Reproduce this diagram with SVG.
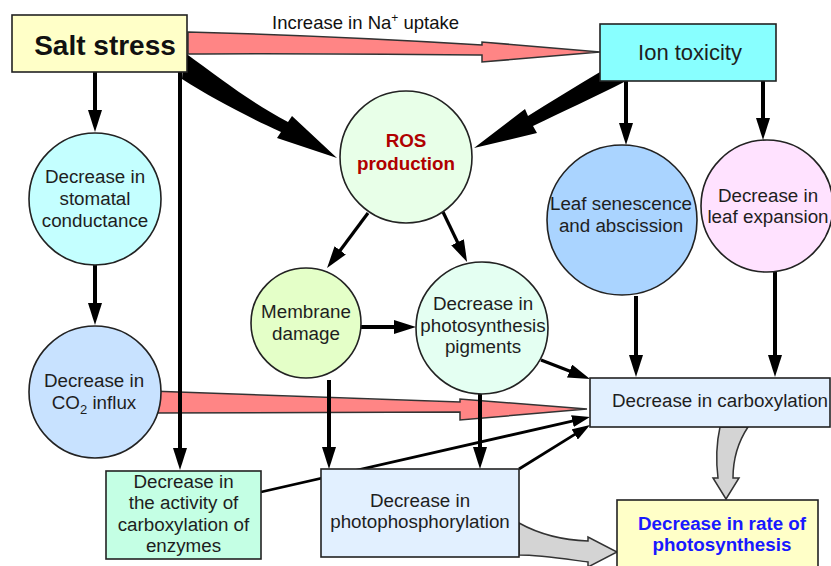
<svg xmlns="http://www.w3.org/2000/svg" width="831" height="566" viewBox="0 0 831 566">
<defs>
<marker id="ah" markerUnits="userSpaceOnUse" markerWidth="22" markerHeight="14" refX="2" refY="7" orient="auto"><path d="M0,0 L22,7 L0,14 Z" fill="#000"/></marker>
<marker id="ahs" markerUnits="userSpaceOnUse" markerWidth="18" markerHeight="12" refX="2" refY="6" orient="auto"><path d="M0,0 L18,6 L0,12 Z" fill="#000"/></marker>
</defs>
<style>
.t{font-family:"Liberation Sans",Arial,sans-serif;font-size:18.8px;fill:#1e1e1e;text-anchor:middle}
.node{stroke:#222;stroke-width:1.6}
.ln{stroke:#000;fill:none}
.pink{fill:#ff8585;stroke:#333;stroke-width:1.5}
.gray{fill:#d4d4d4;stroke:#333;stroke-width:1.5}
</style>
<rect width="831" height="566" fill="#fff"/>
<g id="connectors">
<path class="pink" d="M188,32 C300,35 400,40 482,45 L482,42 L600,52 L482,62 L482,55 C380,54 280,53 188,54 Z"/>
<path class="pink" d="M150,391 C280,396 380,400 460,402 L460,399 L587,409 L460,420 L460,412 C360,413 260,413 150,413 Z"/>
<path d="M184,52 C222,80 252,103 288,122 L292,116 L337,158 L277,138 L281,132 C242,114 212,98 182,79 Z" fill="#000"/>
<path d="M600,72 L626,81 C595,97 562,112 533,126 L537,133 L474,148 L525,109 L528,116 C552,101 576,86 600,72 Z" fill="#000"/>
<line class="ln" stroke-width="4" x1="95" y1="72" x2="95" y2="112" marker-end="url(#ah)"/>
<line class="ln" stroke-width="4" x1="95" y1="265" x2="95" y2="305" marker-end="url(#ah)"/>
<line class="ln" stroke-width="4" x1="180" y1="72" x2="180" y2="450" marker-end="url(#ah)"/>
<line class="ln" stroke-width="4" x1="626" y1="81" x2="626" y2="125" marker-end="url(#ah)"/>
<line class="ln" stroke-width="4" x1="763" y1="81" x2="763" y2="120" marker-end="url(#ah)"/>
<line class="ln" stroke-width="4" x1="636" y1="296" x2="636" y2="357" marker-end="url(#ah)"/>
<line class="ln" stroke-width="4" x1="775" y1="272" x2="775" y2="357" marker-end="url(#ah)"/>
<line class="ln" stroke-width="3.2" x1="368" y1="213" x2="339" y2="252" marker-end="url(#ah)"/>
<line class="ln" stroke-width="3.2" x1="443" y1="212" x2="458.4" y2="244" marker-end="url(#ah)"/>
<line class="ln" stroke-width="4" x1="361" y1="327" x2="396" y2="327" marker-end="url(#ah)"/>
<line class="ln" stroke-width="4" x1="329" y1="380" x2="329" y2="449" marker-end="url(#ah)"/>
<line class="ln" stroke-width="4" x1="480" y1="394" x2="480" y2="449" marker-end="url(#ah)"/>
<line class="ln" stroke-width="3.2" x1="541" y1="360" x2="571.4" y2="371.8" marker-end="url(#ah)"/>
<line class="ln" stroke-width="2.8" x1="261" y1="492" x2="574.4" y2="420.6" marker-end="url(#ahs)"/>
<line class="ln" stroke-width="2.8" x1="519" y1="469" x2="576.4" y2="433.4" marker-end="url(#ahs)"/>
<path class="gray" d="M720,427 C716,445 716,462 718,478 L713,478 L726,499 L739,478 L733,478 C733,460 738,442 748,427 Z"/>
<path class="gray" d="M519,523 C537,533 560,540 588,541 L588,537 L617,552 L588,567 L588,562 C565,559 540,555 519,555 Z"/>
</g>
<g id="salt-stress">
<rect class="node" x="12" y="15" width="175" height="57" fill="#ffffc8"/>
<text class="t" x="105" y="55" style="font-size:28px;font-weight:bold;fill:#111">Salt stress</text>
</g>
<text class="t" x="272" y="29" style="font-size:18.5px;text-anchor:start;fill:#111">Increase in Na<tspan dy="-7" font-size="12">+</tspan><tspan dy="7"> uptake</tspan></text>
<g id="ion-toxicity">
<rect class="node" x="600" y="24" width="176" height="57" fill="#88ffff"/>
<text class="t" x="690" y="60" style="font-size:22px">Ion toxicity</text>
</g>
<g id="ros">
<circle class="node" cx="406" cy="157" r="66" fill="#e8ffe8"/>
<text class="t" x="406" y="147" style="font-weight:bold;fill:#b00000">ROS</text>
<text class="t" x="406" y="170" style="font-weight:bold;fill:#b00000">production</text>
</g>
<g id="stomatal">
<circle class="node" cx="95" cy="199" r="66" fill="#c4ffff"/>
<text class="t" x="95" y="183">Decrease in</text>
<text class="t" x="95" y="205">stomatal</text>
<text class="t" x="95" y="227">conductance</text>
</g>
<g id="co2">
<circle class="node" cx="95" cy="392" r="66" fill="#c8e2ff"/>
<text class="t" x="94" y="387">Decrease in</text>
<text class="t" x="94" y="409">CO<tspan dy="5" font-size="13">2</tspan><tspan dy="-5"> influx</tspan></text>
</g>
<g id="membrane">
<circle class="node" cx="306" cy="323" r="55" fill="#e4ffc8"/>
<text class="t" x="306" y="318">Membrane</text>
<text class="t" x="306" y="340">damage</text>
</g>
<g id="pigments">
<circle class="node" cx="482" cy="328" r="66" fill="#e4fff2"/>
<text class="t" x="483" y="310">Decrease in</text>
<text class="t" x="483" y="332">photosynthesis</text>
<text class="t" x="483" y="353">pigments</text>
</g>
<g id="leaf-senescence">
<circle class="node" cx="622" cy="220" r="75" fill="#aad4ff"/>
<text class="t" x="621" y="210">Leaf senescence</text>
<text class="t" x="621" y="232">and abscission</text>
</g>
<g id="leaf-expansion">
<circle class="node" cx="767" cy="206" r="66" fill="#ffe2ff"/>
<text class="t" x="768" y="202">Decrease in</text>
<text class="t" x="768" y="223">leaf expansion</text>
</g>
<g id="carboxylation">
<rect class="node" x="590" y="378" width="240" height="49" fill="#e2f0ff"/>
<text class="t" x="720" y="407">Decrease in carboxylation</text>
</g>
<g id="enzymes">
<rect class="node" x="106" y="471" width="155" height="88" fill="#c4ffe4"/>
<text class="t" x="183.5" y="488">Decrease in</text>
<text class="t" x="183.5" y="509">the activity of</text>
<text class="t" x="183.5" y="531">carboxylation of</text>
<text class="t" x="183.5" y="552">enzymes</text>
</g>
<g id="photophosphorylation">
<rect class="node" x="321" y="469" width="198" height="88" fill="#e2f0ff"/>
<text class="t" x="420" y="507">Decrease in</text>
<text class="t" x="420" y="528">photophosphorylation</text>
</g>
<g id="photosynthesis">
<rect class="node" x="617" y="500" width="201" height="80" fill="#ffffc8"/>
<text class="t" x="722" y="530" style="font-weight:bold;fill:#1818ff">Decrease in rate of</text>
<text class="t" x="722" y="551" style="font-weight:bold;fill:#1818ff">photosynthesis</text>
</g>
</svg>
